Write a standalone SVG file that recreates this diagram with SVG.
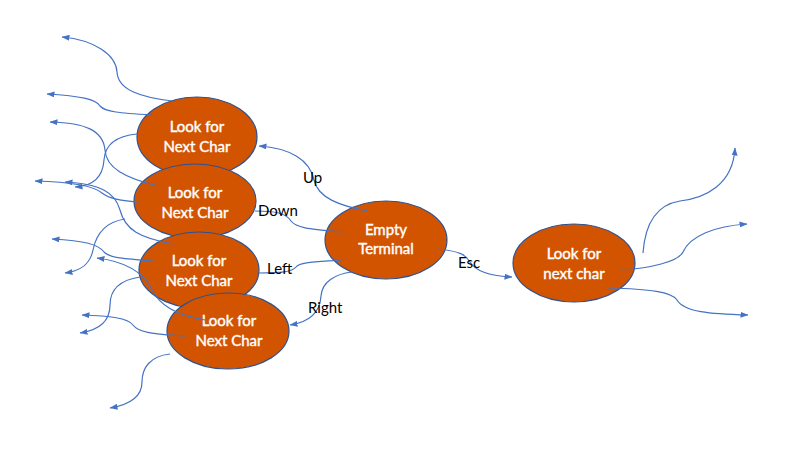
<svg xmlns="http://www.w3.org/2000/svg" width="802" height="454" viewBox="0 0 802 454">
<style>
.node{fill:#D35400;stroke:#2F528F;stroke-width:1.2}
.nt{font-family:Lato,"Liberation Sans",sans-serif;font-size:15px;fill:#ffffff;stroke:#ffffff;stroke-width:0.4;text-anchor:middle}
.lbl{font-family:Lato,"Liberation Sans",sans-serif;font-size:15px;fill:#000000}
.c{fill:none;stroke:#4472C4;stroke-width:1.2}
.a{marker-end:url(#arr)}
</style>
<defs>
<marker id="arr" markerWidth="8" markerHeight="6" refX="7.5" refY="3" orient="auto" markerUnits="userSpaceOnUse"><path d="M0,0 L8,3 L0,6 z" fill="#4472C4"/></marker>
</defs>
<rect width="802" height="454" fill="#ffffff"/>
<g id="n1"><ellipse class="node" cx="197" cy="137" rx="60" ry="40"/><text class="nt" x="197" y="132">Look for</text><text class="nt" x="197" y="152">Next Char</text></g>
<g id="n2"><ellipse class="node" cx="195" cy="201" rx="61" ry="37"/><text class="nt" x="195" y="198">Look for</text><text class="nt" x="195" y="218">Next Char</text></g>
<g id="n3"><ellipse class="node" cx="199" cy="270" rx="60" ry="38"/><text class="nt" x="199" y="266">Look for</text><text class="nt" x="199" y="286">Next Char</text></g>
<g id="n4"><ellipse class="node" cx="228" cy="331" rx="61" ry="38"/><text class="nt" x="229" y="326">Look for</text><text class="nt" x="229" y="346">Next Char</text></g>
<g id="empty"><ellipse class="node" cx="386" cy="240" rx="61" ry="39"/><text class="nt" x="386" y="235">Empty</text><text class="nt" x="386" y="254">Terminal</text></g>
<g id="next"><ellipse class="node" cx="574" cy="263" rx="61" ry="39"/><text class="nt" x="574" y="259">Look for</text><text class="nt" x="574" y="279">next char</text></g>
<g id="connectors">
<path class="c a" d="M368,211 C340,206 318,198 314,180 C310,160 290,148 259,146"/>
<path class="c" d="M342,232 C310,229 296,228 291,221 C286,213 275,211 255,211"/>
<path class="c" d="M342,260 C315,262 300,262 296,267 C292,272 280,273 259,273"/>
<path class="c a" d="M352,272 C335,274 322,282 321,296 C320,312 310,322 290,325"/>
<path class="c a" d="M437,249 C460,251 466,255 470,262 C476,272 490,276 512,277"/>
<path class="c a" d="M643,253 C645,225 655,205 680,201 C705,198 733,185 735,148"/>
<path class="c a" d="M622,270 C650,268 678,262 683,252 C690,236 715,226 747,224"/>
<path class="c a" d="M608,288 C650,289 672,292 677,300 C684,312 710,314 748,315"/>
<path class="c a" d="M172,101 C140,97 118,90 117,72 C116,55 95,40 62,37"/>
<path class="c a" d="M152,115 C120,113 105,112 100,106 C96,99 80,96 47,94"/>
<path class="c a" d="M158,186 C125,178 106,168 105,150 C103,130 85,123 50,122"/>
<path class="c a" d="M137,134 C115,136 105,145 104,160 C103,175 95,186 75,187"/>
<path class="c a" d="M140,202 C118,201 108,198 102,193 C93,185 70,182 35,181"/>
<path class="c a" d="M173,244 C140,238 125,230 120,210 C115,192 100,184 65,182"/>
<path class="c a" d="M125,219 C105,222 96,235 93,250 C90,265 80,271 65,273"/>
<path class="c a" d="M153,261 C125,259 110,258 104,252 C98,244 85,241 52,239"/>
<path class="c a" d="M205,320 C175,315 160,305 152,290 C145,275 130,262 97,258"/>
<path class="c a" d="M140,277 C120,280 110,290 110,305 C110,320 100,330 80,333"/>
<path class="c a" d="M185,336 C150,334 138,332 133,325 C128,318 110,316 82,315"/>
<path class="c a" d="M170,354 C150,356 142,368 142,382 C142,398 128,405 110,408"/>
</g>
<g id="labels">
<text class="lbl" x="303" y="183">Up</text>
<text class="lbl" x="258" y="216">Down</text>
<text class="lbl" x="267" y="274">Left</text>
<text class="lbl" x="308" y="313">Right</text>
<text class="lbl" x="458" y="268">Esc</text>
</g>
</svg>
